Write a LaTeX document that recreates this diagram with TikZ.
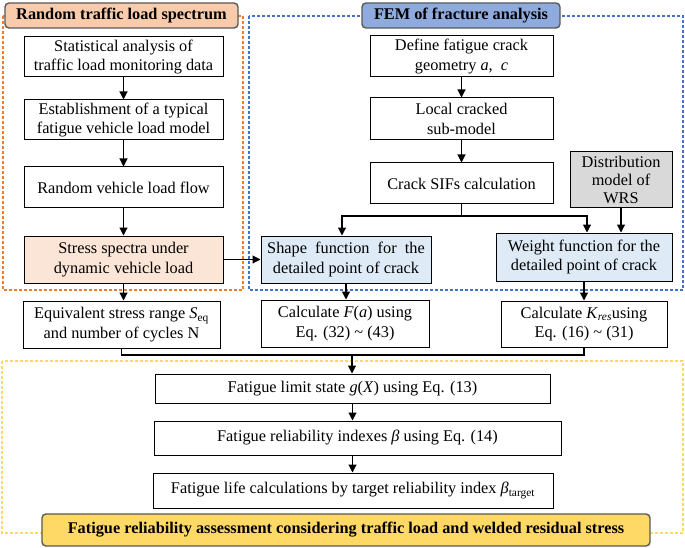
\documentclass[tikz,border=0pt]{standalone}
\usepackage{fontspec}
\setmainfont{Liberation Serif}
\usetikzlibrary{arrows.meta,calc}
\definecolor{orgdash}{HTML}{ED7D31}
\definecolor{bludash}{HTML}{4472C4}
\definecolor{yeldash}{HTML}{FFD966}
\definecolor{orgtitle}{HTML}{F8CBAD}
\definecolor{blutitle}{HTML}{8FAADC}
\definecolor{yeltitle}{HTML}{FFD966}
\definecolor{peach}{HTML}{FBE5D6}
\definecolor{lblue}{HTML}{DEEBF7}
\definecolor{lgray}{HTML}{D9D9D9}
\definecolor{tborder}{HTML}{595959}
\tikzset{
  txt/.style={font=\fontsize{16.3}{19.5}\selectfont},
  pbox/.style={draw=black, line width=1pt, fill=white, align=center, inner sep=0pt, txt},
  titlebox/.style={draw=tborder, line width=1.4pt, rounded corners=4pt, align=center,
    font=\fontsize{16.3}{19}\selectfont\bfseries, inner sep=0pt},
  frame/.style={dash pattern=on 3pt off 2pt, line width=1.2pt},
  arr/.style={-{Triangle[length=8pt,width=8pt]}, line width=1.1pt},
  ln/.style={line width=1.1pt},
}
\newcommand{\mybox}[7]{%
  \pgfmathsetmacro{\cx}{(#3+#5)/2}\pgfmathsetmacro{\cy}{(#4+#6)/2}%
  \pgfmathsetmacro{\ww}{#5-#3}\pgfmathsetmacro{\hh}{#6-#4}%
  \node[#2, minimum width=\ww pt, minimum height=\hh pt] (#1) at (\cx,\cy) {#7};}
\begin{document}
\begin{tikzpicture}[x=1pt,y=-1pt]
\useasboundingbox[fill=white] (0,0) rectangle (685,548);
% frames
\draw[frame, draw=orgdash] (3,16) rectangle (243,290);
\draw[frame, draw=bludash] (249,16) rectangle (683,290);
\draw[frame, draw=yeldash] (2,361) rectangle (683,533);
% titles
\mybox{t1}{titlebox, fill=orgtitle}{5}{3}{238}{28}{Random traffic load spectrum}
\mybox{t2}{titlebox, fill=blutitle}{362}{3}{560}{28}{FEM of fracture analysis}
% left column
\mybox{b1}{pbox}{24}{37}{223}{77}{Statistical analysis of\\traffic load monitoring data}
\mybox{b2}{pbox}{24}{100}{223}{140}{Establishment of a typical\\fatigue vehicle load model}
\mybox{b3}{pbox}{24}{167}{223}{208}{Random vehicle load flow}
\mybox{b4}{pbox, fill=peach}{24}{236}{223}{283}{Stress spectra under\\dynamic vehicle load}
\mybox{b5}{pbox}{23}{301}{220}{348}{Equivalent stress range \textit{S}\textsubscript{eq}\\and number of cycles N}
% middle column
\mybox{def}{pbox}{370}{36}{553}{77}{Define fatigue crack\\geometry \textit{a}, \ \textit{c}}
\mybox{loc}{pbox}{370}{98}{553}{140}{Local cracked\\sub-model}
\mybox{sif}{pbox}{370}{163}{553}{204}{Crack SIFs calculation}
\mybox{dist}{pbox, fill=lgray, font=\fontsize{16.3}{18}\selectfont}{570}{152}{672}{208}{Distribution\\model of\\WRS}
\mybox{shp}{pbox, fill=lblue}{261}{236}{431}{283}{Shape\ \ function\ \ for\ \ the\\detailed point of crack}
\mybox{wgt}{pbox, fill=lblue}{496}{233}{672}{281}{Weight function for the\\detailed point of crack}
\mybox{calf}{pbox}{261}{300}{429}{347}{Calculate \textit{F}(\textit{a}) using\\Eq. (32) \textasciitilde{} (43)}
\mybox{kres}{pbox}{501}{301}{667}{347}{Calculate \textit{K}\textsubscript{\textit{res}}using\\Eq. (16) \textasciitilde{} (31)}
% bottom
\mybox{lim}{pbox}{155}{374}{550}{403}{Fatigue limit state \textit{g}(\textit{X}) using Eq. (13)}
\mybox{idx}{pbox}{154}{421}{561}{455}{Fatigue reliability indexes \textit{β} using Eq. (14)}
\mybox{life}{pbox}{153}{473}{553}{508}{Fatigue life calculations by target reliability index \textit{β}\textsubscript{target}}
\mybox{t3}{titlebox, fill=yeltitle}{42}{514}{650}{546}{Fatigue reliability assessment considering traffic load and welded residual stress}
% connectors left
\draw[arr] (b1.south) -- (b2.north);
\draw[arr] (b2.south) -- (b3.north);
\draw[arr] (b3.south) -- (b4.north);
\draw[arr] (b4.south) -- (b4.south |- b5.north);
\draw[arr] (b4.east) -- (shp.west);
% connectors middle
\draw[arr] (def.south) -- (loc.north);
\draw[arr] (loc.south) -- (sif.north);
\coordinate (brL) at (342,216);
\coordinate (brR) at (587,216);
\draw[arr] (sif.south) |- (brL) -- (brL |- shp.north);
\draw[arr] (sif.south) |- (brR) -- (brR |- wgt.north);
\draw[arr] (dist.south) -- (dist.south |- wgt.north);
\draw[arr] (shp.south) -- (shp.south |- calf.north);
\draw[arr] (wgt.south) -- (wgt.south |- kres.north);
% join
\coordinate (j) at (352,355);
\draw[ln] (b5.south) |- (kres.south |- j) -- (kres.south);
\draw[arr] (j) -- (j |- lim.north);
\draw[arr] (lim.south) -- (lim.south |- idx.north);
\draw[arr] (lim.south |- idx.south) -- (lim.south |- life.north);
\end{tikzpicture}
\end{document}
